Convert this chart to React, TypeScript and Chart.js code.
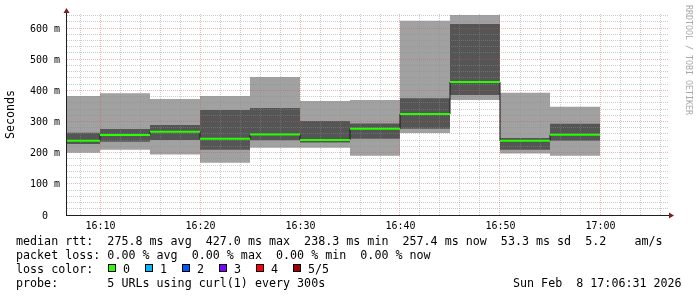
import React, { useEffect, useRef } from "react";
import { Chart, registerables } from "chart.js";

Chart.register(...registerables);

// ---- data (time in minutes after 16:00, values in ms) ----
const startMinutes = [5, 10, 15, 20, 25, 30, 35, 40, 45, 50, 55];
const endMinute = 60;
const lightMax = [382, 391, 372, 382, 443, 366, 369, 623, 642, 392, 347];
const lightMin = [200, 209, 194, 168, 216, 216, 190, 263, 369, 197, 190];
const darkMax = [264, 276, 289, 337, 343, 302, 294, 375, 613, 247, 293];
const darkMin = [228, 235, 241, 209, 240, 233, 245, 277, 385, 209, 238];
const median = [238, 257, 267, 245, 258, 241, 277, 324, 427, 238.3, 257.4];

const xTickMinutes = [10, 20, 30, 40, 50, 60];
const xTickLabels = ["16:10", "16:20", "16:30", "16:40", "16:50", "17:00"];
const yTickValues = [0, 100, 200, 300, 400, 500, 600];
const yTickLabels = ["0", "100 m", "200 m", "300 m", "400 m", "500 m", "600 m"];

const legendLines = [
  "median rtt:  275.8 ms avg  427.0 ms max  238.3 ms min  257.4 ms now  53.3 ms sd  5.2    am/s",
  "packet loss: 0.00 % avg  0.00 % max  0.00 % min  0.00 % now",
];
const lossLabels = ["0", "1", "2", "3", "4", "5/5"];
const lossColors = ["#26ff00", "#00b8ff", "#0059ff", "#7e00ff", "#ff0000", "#a00000"];
const probeLine = "probe:       5 URLs using curl(1) every 300s";
const dateLine = "Sun Feb  8 17:06:31 2026";

const X_MIN = 6.7;
const X_MAX = 66.7;
const Y_MAX = 645;

const MONO = "'DejaVu Sans Mono', 'Liberation Mono', monospace";

function stepPoints(vals: number[]) {
  const pts = startMinutes.map((t, i) => ({ x: t, y: vals[i] }));
  pts.push({ x: endMinute, y: vals[vals.length - 1] });
  return pts;
}

export default function App() {
  const ref = useRef<HTMLCanvasElement>(null);

  useEffect(() => {
    document.body.style.margin = "0";
    const canvas = ref.current;
    if (!canvas) return;

    const greenPts: { x: number; y: number | null }[] = [];
    startMinutes.forEach((t, i) => {
      const e = i + 1 < startMinutes.length ? startMinutes[i + 1] : endMinute;
      greenPts.push({ x: t, y: median[i] }, { x: e, y: median[i] }, { x: e, y: null });
    });

    const transparent = "rgba(0,0,0,0)";
    const MAJOR = "rgba(222,79,79,0.42)";
    const MINOR = "rgba(143,143,143,0.45)";

    const rrdPlugin = {
      id: "rrd",
      afterDatasetDraw(chart: any, args: any) {
        if (args.index !== 3) return;
        const { ctx, chartArea, scales } = chart;
        const { left, right, top, bottom } = chartArea;
        const xs = scales.x;
        const ys = scales.y;
        ctx.save();
        ctx.lineWidth = 1;
        ctx.setLineDash([1, 1]);
        for (let m = 8; m <= 66; m += 2) {
          const px = Math.floor(xs.getPixelForValue(m)) + 0.5;
          ctx.strokeStyle = m % 10 === 0 ? MAJOR : MINOR;
          ctx.beginPath();
          ctx.moveTo(px, top);
          ctx.lineTo(px, bottom);
          ctx.stroke();
        }
        for (let v = 20; v <= Y_MAX; v += 20) {
          const py = Math.floor(ys.getPixelForValue(v)) + 0.5;
          ctx.strokeStyle = v % 100 === 0 ? MAJOR : MINOR;
          ctx.beginPath();
          ctx.moveTo(left, py);
          ctx.lineTo(right + 1, py);
          ctx.stroke();
        }
        ctx.restore();
      },
      afterDraw(chart: any) {
        const { ctx, chartArea, scales } = chart;
        const { left, right, top, bottom } = chartArea;
        const xs = scales.x;
        const ys = scales.y;
        ctx.save();
        ctx.setLineDash([]);
        ctx.lineWidth = 1;
        ctx.strokeStyle = "#1f1f1f";
        ctx.beginPath();
        ctx.moveTo(left - 1, bottom + 0.5);
        ctx.lineTo(right + 3, bottom + 0.5);
        ctx.stroke();
        ctx.beginPath();
        ctx.moveTo(left - 0.5, bottom + 1);
        ctx.lineTo(left - 0.5, top - 2);
        ctx.stroke();
        ctx.fillStyle = "#801f1f";
        ctx.beginPath();
        ctx.moveTo(right + 2, bottom - 2.5);
        ctx.lineTo(right + 7, bottom + 0.5);
        ctx.lineTo(right + 2, bottom + 3.5);
        ctx.closePath();
        ctx.fill();
        ctx.beginPath();
        ctx.moveTo(left - 3.5, top - 1);
        ctx.lineTo(left - 0.5, top - 6);
        ctx.lineTo(left + 2.5, top - 1);
        ctx.closePath();
        ctx.fill();

        ctx.fillStyle = "#000";
        ctx.font = `10px ${MONO}`;
        ctx.textBaseline = "alphabetic";
        ctx.textAlign = "right";
        yTickValues.forEach((v, i) => {
          const py = ys.getPixelForValue(v);
          const lab = yTickLabels[i].includes(" ") ? yTickLabels[i] : yTickLabels[i] + "  ";
          ctx.fillText(lab, 60, py + 3.6);
        });
        ctx.textAlign = "center";
        xTickMinutes.forEach((m, i) => {
          const px = xs.getPixelForValue(m);
          ctx.fillText(xTickLabels[i], px + 0.5, 228.5);
        });

        ctx.font = `11.68px ${MONO}`;
        ctx.save();
        ctx.translate(10.5, (top + bottom) / 2);
        ctx.rotate(-Math.PI / 2);
        ctx.textAlign = "center";
        ctx.textBaseline = "middle";
        ctx.fillText("Seconds", 0, 0);
        ctx.restore();

        ctx.save();
        ctx.translate(688.5, 5);
        ctx.rotate(Math.PI / 2);
        ctx.textAlign = "left";
        ctx.textBaseline = "middle";
        ctx.fillStyle = "#a8a8a8";
        ctx.font = `8.3px ${MONO}`;
        ctx.fillText("RRDTOOL / TOBI OETIKER", 0, 0);
        ctx.restore();

        ctx.font = `11.68px ${MONO}`;
        ctx.textAlign = "left";
        ctx.textBaseline = "alphabetic";
        ctx.fillStyle = "#000";
        ctx.fillText(legendLines[0], 16, 244.5);
        ctx.fillText(legendLines[1], 16, 258.5);
        ctx.fillText("loss color:", 16, 272.5);
        lossLabels.forEach((lab, i) => {
          const bx = 108 + i * 37;
          ctx.fillStyle = lossColors[i];
          ctx.fillRect(bx, 264, 8, 8);
          ctx.strokeStyle = "#000";
          ctx.strokeRect(bx + 0.5, 264.5, 7, 7);
          ctx.fillStyle = "#000";
          ctx.fillText(lab, bx + 15, 272.5);
        });
        ctx.fillText(probeLine, 16, 286.5);
        ctx.fillText(dateLine, 513, 286.5);
        ctx.restore();
      },
    };

    const chart = new Chart(canvas, {
      type: "line",
      data: {
        datasets: [
          { data: stepPoints(lightMax), stepped: true, fill: "+1", backgroundColor: "#a1a1a1", borderColor: transparent, borderWidth: 0, pointRadius: 0, order: 6 },
          { data: stepPoints(lightMin), stepped: true, fill: false, borderColor: transparent, borderWidth: 0, pointRadius: 0, order: 5 },
          { data: stepPoints(darkMax), stepped: true, fill: "+1", backgroundColor: "#555555", borderColor: transparent, borderWidth: 0, pointRadius: 0, order: 4 },
          { data: stepPoints(darkMin), stepped: true, fill: false, borderColor: transparent, borderWidth: 0, pointRadius: 0, order: 3 },
          { data: stepPoints(median), stepped: true, fill: false, borderColor: "#1a1a1a", borderWidth: 1, pointRadius: 0, order: 2 },
          { data: greenPts as any, fill: false, borderColor: "#26ff00", borderWidth: 2, pointRadius: 0, spanGaps: false, order: 1 },
        ],
      },
      options: {
        responsive: false,
        animation: false,
        devicePixelRatio: 1,
        layout: { padding: { left: 67, right: 30, top: 14, bottom: 82 } },
        plugins: { legend: { display: false }, tooltip: { enabled: false } },
        scales: {
          x: { type: "linear", min: X_MIN, max: X_MAX, display: false },
          y: { type: "linear", min: 0, max: Y_MAX, display: false },
        },
        elements: { point: { radius: 0 } },
      },
      plugins: [rrdPlugin],
    });

    return () => chart.destroy();
  }, []);

  return (
    <canvas
      ref={ref}
      width={697}
      height={297}
      style={{ display: "block", width: 697, height: 297 }}
    />
  );
}
